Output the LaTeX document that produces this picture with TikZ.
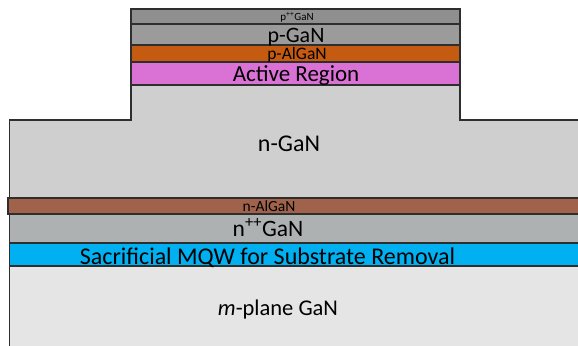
\documentclass[tikz,border=0pt]{standalone}
\usepackage{fontspec}
\setmainfont{Carlito}
\definecolor{ppgan}{HTML}{8F8F8F}
\definecolor{pgan}{HTML}{9B9B9B}
\definecolor{palgan}{HTML}{C55A11}
\definecolor{active}{HTML}{DA72D6}
\definecolor{ngan}{HTML}{CFCFCF}
\definecolor{nalgan}{HTML}{A0624B}
\definecolor{nppgan}{HTML}{AEB1B1}
\definecolor{mqw}{HTML}{00B0F0}
\definecolor{subst}{HTML}{E5E5E5}
\definecolor{edge}{HTML}{2E2E2E}
\tikzset{
  layer/.style={draw=edge, line width=1.3bp},
  lbl/.style={anchor=base, inner sep=0pt, text=black},
}
\newcommand{\fs}[1]{\fontsize{#1bp}{#1bp}\selectfont}
\begin{document}
\begin{tikzpicture}[x=1bp, y=-1bp]
\useasboundingbox (0,0) rectangle (578,345);
\begin{scope}
\clip (0,0) rectangle (578,345);
% substrate
\path[layer, fill=subst] (9.5,266) rectangle (600,360);
% sacrificial MQW
\path[layer, fill=mqw] (9.5,243) rectangle (600,266);
% n++ GaN
\path[layer, fill=nppgan] (9.5,214) rectangle (600,243);
% n-AlGaN
\path[layer, fill=nalgan] (8,198) rectangle (600,214);
% n-GaN with the etched mesa
\path[layer, fill=ngan] (131,85) -- (131,120) -- (9.5,120) -- (9.5,198)
  -- (600,198) -- (600,120) -- (460,120) -- (460,85) -- cycle;
% mesa stack
\path[layer, fill=active] (131,62) rectangle (460,85);
\path[layer, fill=palgan] (131,45) rectangle (460,62);
\path[layer, fill=pgan] (131,24) rectangle (460,45);
\path[layer, fill=ppgan] (131,9) rectangle (460,24);
\end{scope}
% labels
\node[lbl, font=\fs{11}] (tppgan) at (297,20.5) {p\textsuperscript{++}GaN};
\node[lbl, font=\fs{22}] (tpgan) at (296,42.5) {p-GaN};
\node[lbl, font=\fs{17.5}] (tpalgan) at (297,59.3) {p-AlGaN};
\node[lbl, font=\fs{23}] (tactive) at (296,81.7) {Active Region};
\node[lbl, font=\fs{24}] (tngan) at (289,151.7) {n-GaN};
\node[lbl, font=\fs{15.5}] (tnalgan) at (269,211.7) {n-AlGaN};
\node[lbl, font=\fs{23.5}] (tnpp) at (268,236.7) {n\textsuperscript{++}GaN};
\node[lbl, font=\fs{24}] (tmqw) at (267.5,264) {Sacrificial MQW for Substrate Removal};
\node[lbl, font=\fs{22.5}] (tsub) at (278,315) {\textit{m}-plane GaN};
\end{tikzpicture}
\end{document}
